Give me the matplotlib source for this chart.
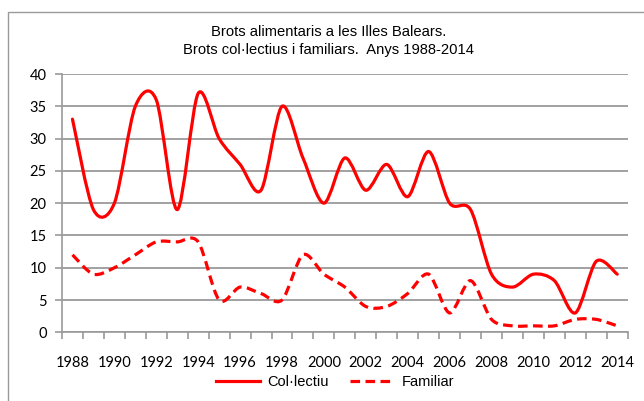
import matplotlib.pyplot as plt
from matplotlib.path import Path
from matplotlib.patches import PathPatch, Rectangle
from matplotlib.lines import Line2D
import numpy as np

years = list(range(1988, 2015))
colectiu = [33, 19, 20, 35, 36, 19, 37, 30, 26, 22, 35, 27, 20, 27, 22, 26, 21, 28, 20, 19, 9, 7, 9, 8, 3, 11, 9]
familiar = [12, 9, 10, 12, 14, 14, 14, 5, 7, 6, 5, 12, 9, 7, 4, 4, 6, 9, 3, 8, 2, 1, 1, 1, 2, 2, 1]
year_labels = [str(y) for y in range(1988, 2015, 2)]

red = '#FF0000'
grey = '#9A9A9A'
dash = (0, (3.0, 1.7))


def smooth_path(x, y, k=0.15):
    # excel-like bezier smoothing
    x = np.asarray(x, float)
    y = np.asarray(y, float)
    n = len(x)
    verts = [(x[0], y[0])]
    codes = [Path.MOVETO]
    for i in range(n - 1):
        i0 = max(i - 1, 0)
        i3 = min(i + 2, n - 1)
        c1 = (x[i] + (x[i + 1] - x[i0]) * k, y[i] + (y[i + 1] - y[i0]) * k)
        c2 = (x[i + 1] - (x[i3] - x[i]) * k, y[i + 1] - (y[i3] - y[i]) * k)
        verts += [c1, c2, (x[i + 1], y[i + 1])]
        codes += [Path.CURVE4] * 3
    return Path(verts, codes)


fig = plt.figure(figsize=(6.44, 4.01), dpi=100)
W, H = 644, 401
fig.patches.append(Rectangle((8 / W, -30 / H), 700 / W, (401 - 12 + 30) / H, transform=fig.transFigure,
                             fill=False, edgecolor=grey, lw=1.0))

ax = fig.add_axes([62 / W, 1 - 332.3 / H, (627.7 - 62) / W, (332.3 - 74) / H])

ax.add_patch(PathPatch(smooth_path(years, colectiu), fill=False, edgecolor=red, lw=2.3,
                       capstyle='round', joinstyle='round'))
ax.add_patch(PathPatch(smooth_path(years, familiar), fill=False, edgecolor=red, lw=2.3,
                       linestyle=dash))

ax.set_xlim(1987.5, 2014.5)
ax.set_ylim(0, 40)
ax.set_yticks(range(0, 41, 5))
ax.yaxis.grid(True, color=grey, lw=1.3)
ax.set_axisbelow(True)

ax.set_xticks(np.arange(1987.5, 2015, 1))
ax.set_xticklabels([])
ax.set_xticks(range(1988, 2015, 2), minor=True)
ax.set_xticklabels(year_labels, minor=True)
ax.tick_params(axis='x', which='major', length=5, color=grey, width=1.2, direction='out')
ax.tick_params(axis='x', which='minor', length=0, pad=17)
ax.tick_params(axis='y', length=5, color=grey, width=1.2, direction='out', pad=6)

for lab in ax.get_xticklabels(minor=True) + ax.get_yticklabels():
    lab.set_family('Lato')
    lab.set_fontsize(10.5)
    lab.set_color('black')

for s in ['top', 'right']:
    ax.spines[s].set_visible(False)
for s in ['left', 'bottom']:
    ax.spines[s].set_color(grey)
    ax.spines[s].set_linewidth(1.2)

fig.text(329 / W, 1 - 32 / H, 'Brots alimentaris a les Illes Balears.', ha='center', va='center',
         family='Liberation Sans', fontsize=10.6)
fig.text(328 / W, 1 - 50 / H, 'Brots col·lectius i familiars.  Anys 1988-2014', ha='center', va='center',
         family='Liberation Sans', fontsize=10.6)

handles = [Line2D([], [], color=red, lw=2.3),
           Line2D([], [], color=red, lw=2.3, linestyle=dash)]
fig.legend(handles, ['Col·lectiu', 'Familiar'], loc='center', bbox_to_anchor=(0.52, 1 - 382 / H),
           ncol=2, frameon=False, prop={'family': 'Liberation Sans', 'size': 10.5},
           handlelength=3.0, columnspacing=1.5, handletextpad=0.5)

fig.savefig('out.png', dpi=100)
